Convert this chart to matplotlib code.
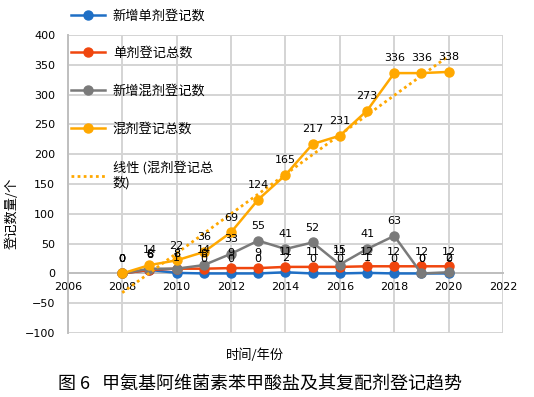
import matplotlib
matplotlib.use("Agg")
import matplotlib.pyplot as plt
import numpy as np

plt.rcParams['font.family'] = ['Noto Sans CJK SC', 'DejaVu Sans']

years = [2008, 2009, 2010, 2011, 2012, 2013, 2014, 2015, 2016, 2017, 2018, 2019, 2020]
new_single = [0, 6, 1, 0, 0, 0, 2, 0, 0, 1, 0, 0, 0]
total_single = [0, 6, 8, 8, 9, 9, 11, 11, 11, 12, 12, 12, 12]
new_mixed = [0, 8, 8, 14, 33, 55, 41, 52, 15, 41, 63, 0, 2]
total_mixed = [0, 14, 22, 36, 69, 124, 165, 217, 231, 273, 336, 336, 338]

names = ['新增单剂登记数', '单剂登记总数', '新增混剂登记数', '混剂登记总数']
colors = ['#1F6FC5', '#F0460E', '#7A7A7A', '#FFA800']
series = [new_single, total_single, new_mixed, total_mixed]
trend_label = '线性 (混剂登记总\n数)'

xticks = [2006, 2008, 2010, 2012, 2014, 2016, 2018, 2020, 2022]
yticks = [-100, -50, 0, 50, 100, 150, 200, 250, 300, 350, 400]

fig = plt.figure(figsize=(5.34, 3.97), dpi=100)
ax = fig.add_axes([0.127, 0.161, 0.815, 0.751])

ax.set_xlim(2006, 2022)
ax.set_ylim(-100, 400)
ax.set_xticks(xticks)
ax.set_yticks(yticks)
ax.set_yticklabels([str(v).replace('-', '\u2212') for v in yticks])
ax.grid(True, color='#D4D4D4', linewidth=1.4)
ax.set_axisbelow(True)
for s in ['top', 'right']:
    ax.spines[s].set_visible(False)
ax.spines['left'].set_color('#BFBFBF')
ax.spines['left'].set_linewidth(1.4)
ax.spines['bottom'].set_position(('data', 0))
ax.spines['bottom'].set_color('#BFBFBF')
ax.spines['bottom'].set_linewidth(1.4)
ax.tick_params(axis='both', length=0, labelsize=8, colors='black')
ax.tick_params(axis='y', pad=9)
ax.tick_params(axis='x', pad=6)
for lab in ax.get_xticklabels() + ax.get_yticklabels():
    lab.set_family('DejaVu Sans')

handles = []
for vals, c, n, z in zip(series, colors, names, [3, 4, 5, 6]):
    h, = ax.plot(years, vals, color=c, marker='o', markersize=6.5, linewidth=1.8,
                 label=n, zorder=z, clip_on=False)
    handles.append(h)

# linear trendline of total mixed
x = np.arange(1, len(years) + 1)
coef = np.polyfit(x, total_mixed, 1)
trend = np.polyval(coef, x)
ht, = ax.plot(years, trend, color='#FFA800', linestyle=(0, (1, 1.2)), linewidth=2,
              label=trend_label, zorder=7)
handles.append(ht)

for vals in series:
    for xx, v in zip(years, vals):
        ax.annotate(str(v), (xx, v), xytext=(0, 7), textcoords='offset points',
                    ha='center', va='bottom', fontsize=8, family='DejaVu Sans', zorder=10)

fig.legend(handles=handles, loc='upper left', bbox_to_anchor=(0.115, 1.0),
           frameon=False, fontsize=9.5, labelspacing=1.88, handlelength=2.6,
           handletextpad=0.6, borderaxespad=0.3)

fig.text(0.022, 0.463, '登记数量/个', rotation=90, ha='center', va='center', fontsize=9.5)
fig.text(255 / 534, 1 - 355 / 397, '时间/年份', ha='center', va='center', fontsize=9.5)
fig.text(260 / 534, 1 - 384 / 397, '图 6   甲氨基阿维菌素苯甲酸盐及其复配剂登记趋势',
         ha='center', va='center', fontsize=13)

fig.savefig('out.png', dpi=100)
